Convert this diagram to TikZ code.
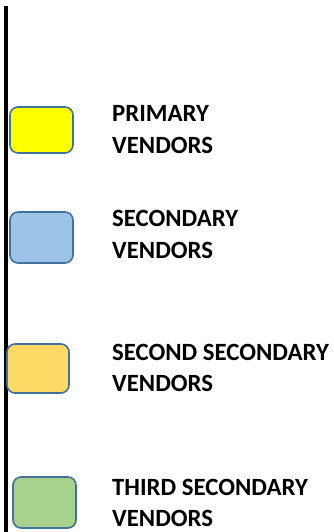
\documentclass[tikz,border=0pt]{standalone}
\usepackage{fontspec}
\setmainfont{Carlito}
\usetikzlibrary{positioning}

\definecolor{boxedge}{HTML}{41719C}
\definecolor{primfill}{HTML}{FFFF00}
\definecolor{secfill}{HTML}{9DC3E6}
\definecolor{secsecfill}{HTML}{FFD966}
\definecolor{thirdfill}{HTML}{A9D18E}

\tikzset{
  vendorbox/.style={draw=boxedge, line width=1.6pt, rounded corners=8pt,
    minimum width=63pt, inner sep=0pt},
  vendorlabel/.style={anchor=west, align=left, inner sep=0pt,
    font=\fontsize{24.8}{31.5}\selectfont\bfseries}
}

\begin{document}
\begin{tikzpicture}[x=1pt, y=-1pt]
\useasboundingbox (0,0) rectangle (333,532);
% axis line on the left
\coordinate (axtop) at (6,6);
\coordinate (axbot) at (6,532);
\draw[line width=4pt] (axtop) -- (axbot);
% legend boxes
\node [vendorbox, fill=primfill, minimum height=46pt] (prim) at (41.5,130) {};
\node [vendorbox, fill=secfill, minimum height=51pt] (sec) at (41.5,237.5) {};
\node [vendorbox, fill=secsecfill, minimum width=62pt, minimum height=49pt] (secsec) at (38,368.5) {};
\node [vendorbox, fill=thirdfill, minimum height=51pt] (third) at (44.5,502.5) {};
% legend texts
\node [vendorlabel] (lprim) at (112,129.5) {PRIMARY\\VENDORS};
\node [vendorlabel] (lsec) at (112,234.5) {SECONDARY\\VENDORS};
\node [vendorlabel] (lsecsec) at (112,368) {SECOND SECONDARY\\VENDORS};
\node [vendorlabel] (lthird) at (112,503) {THIRD SECONDARY\\VENDORS};
\end{tikzpicture}
\end{document}
